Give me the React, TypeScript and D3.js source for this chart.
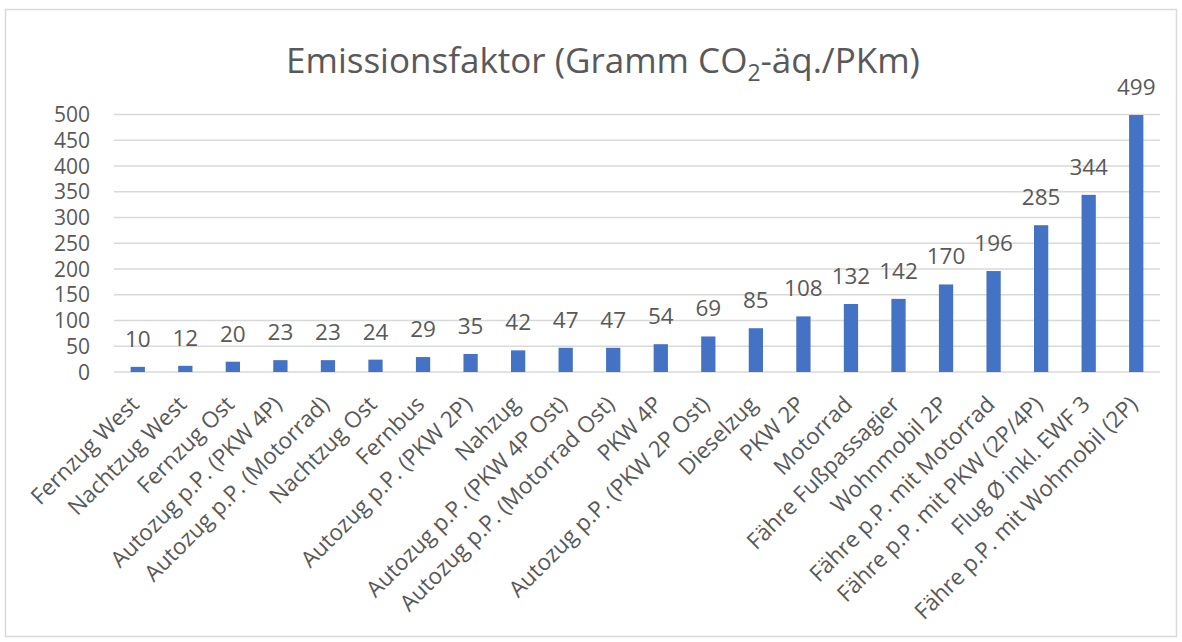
import { useEffect, useRef } from 'react';
import * as d3 from 'd3';

const categories = [
  'Fernzug West', 'Nachtzug West', 'Fernzug Ost', 'Autozug p.P. (PKW 4P)',
  'Autozug p.P. (Motorrad)', 'Nachtzug Ost', 'Fernbus', 'Autozug p.P. (PKW 2P)',
  'Nahzug', 'Autozug p.P. (PKW 4P Ost)', 'Autozug p.P. (Motorrad Ost)', 'PKW 4P',
  'Autozug p.P. (PKW 2P Ost)', 'Dieselzug', 'PKW 2P', 'Motorrad',
  'Fähre Fußpassagier', 'Wohnmobil 2P', 'Fähre p.P. mit Motorrad',
  'Fähre p.P. mit PKW (2P/4P)', 'Flug Ø inkl. EWF 3', 'Fähre p.P. mit Wohmobil (2P)',
];
const values = [10, 12, 20, 23, 23, 24, 29, 35, 42, 47, 47, 54, 69, 85, 108, 132, 142, 170, 196, 285, 344, 499];
const yTicks = [0, 50, 100, 150, 200, 250, 300, 350, 400, 450, 500];

const W = 1182;
const H = 642;
const FONT = '"Open Sans", "Noto Sans", sans-serif';
const TEXT = '#595959';

const App = () => {
  const svgRef = useRef<SVGSVGElement>(null);

  useEffect(() => {
    document.body.style.margin = '0';
    const svg = d3.select(svgRef.current);
    svg.selectAll('*').remove();

    svg.append('rect')
      .attr('x', 5.5).attr('y', 9.5)
      .attr('width', W - 11).attr('height', H - 15)
      .attr('fill', '#fff').attr('stroke', '#d9d9d9').attr('stroke-width', 1.5);

    const x = d3.scaleBand()
      .domain(categories)
      .range([114, 1160])
      .paddingInner(0.7)
      .paddingOuter(0.35);

    const y = d3.scaleLinear().domain([0, 500]).range([372, 114.5]);

    // title
    const title = svg.append('text')
      .attr('x', 603).attr('y', 73)
      .attr('text-anchor', 'middle')
      .attr('font-family', FONT).attr('font-size', 35)
      .attr('fill', TEXT);
    title.append('tspan').text('Emissionsfaktor (Gramm CO');
    title.append('tspan').attr('font-size', 23).attr('dy', 8).text('2');
    title.append('tspan').attr('dy', -8).text('-äq./PKm)');

    // grid
    svg.append('g').selectAll('line')
      .data(yTicks)
      .join('line')
      .attr('x1', 114).attr('x2', 1160)
      .attr('y1', d => y(d)).attr('y2', d => y(d))
      .attr('stroke', '#d9d9d9').attr('stroke-width', 1.5);

    // y axis labels
    svg.append('g').selectAll('text')
      .data(yTicks)
      .join('text')
      .attr('x', 90).attr('y', d => y(d))
      .attr('dy', '0.36em')
      .attr('text-anchor', 'end')
      .attr('font-family', FONT).attr('font-size', 21)
      .attr('fill', TEXT)
      .text(d => d);

    const data = categories.map((c, i) => ({ c, v: values[i] }));

    svg.append('g').selectAll('rect')
      .data(data)
      .join('rect')
      .attr('x', d => x(d.c)!)
      .attr('y', d => y(d.v))
      .attr('width', x.bandwidth())
      .attr('height', d => y(0) - y(d.v))
      .attr('fill', '#4472c4');

    // value labels
    svg.append('g').selectAll('text')
      .data(data)
      .join('text')
      .attr('x', d => x(d.c)! + x.bandwidth() / 2)
      .attr('y', d => y(d.v) - 20)
      .attr('text-anchor', 'middle')
      .attr('font-family', FONT).attr('font-size', 22.5)
      .attr('fill', TEXT)
      .text(d => d.v);

    // category labels
    svg.append('g').selectAll('text')
      .data(data)
      .join('text')
      .attr('transform', d => `translate(${x(d.c)! + x.bandwidth() / 2 - 3},${400}) rotate(-45)`)
      .attr('text-anchor', 'end')
      .attr('dy', '0.36em')
      .attr('font-family', FONT).attr('font-size', 22.5)
      .attr('fill', TEXT)
      .text(d => d.c);
  }, []);

  return <svg ref={svgRef} width={W} height={H} style={{ display: 'block' }} />;
};

export default App;
